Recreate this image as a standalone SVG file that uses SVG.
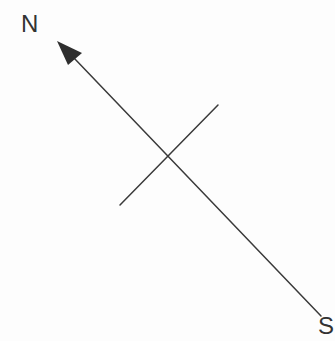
<svg xmlns="http://www.w3.org/2000/svg" width="335" height="341" viewBox="0 0 335 341">
<style>
.ln{stroke:#3a3a3a;stroke-width:1.5;fill:none;stroke-linecap:round}
.lbl{font-family:"Liberation Sans",Arial,sans-serif;font-size:24px;fill:#333}
</style>
<rect width="335" height="341" fill="#fdfdfd"/>
<g id="connectors">
<line class="ln" x1="74" y1="58" x2="321" y2="316"/>
<polygon points="57,41 82,53 68,65" fill="#2e2e2e"/>
<line class="ln" x1="218" y1="105" x2="120" y2="205"/>
</g>
<g id="north"><text class="lbl" x="21" y="32">N</text></g>
<g id="south"><text class="lbl" x="318" y="334">S</text></g>
</svg>
